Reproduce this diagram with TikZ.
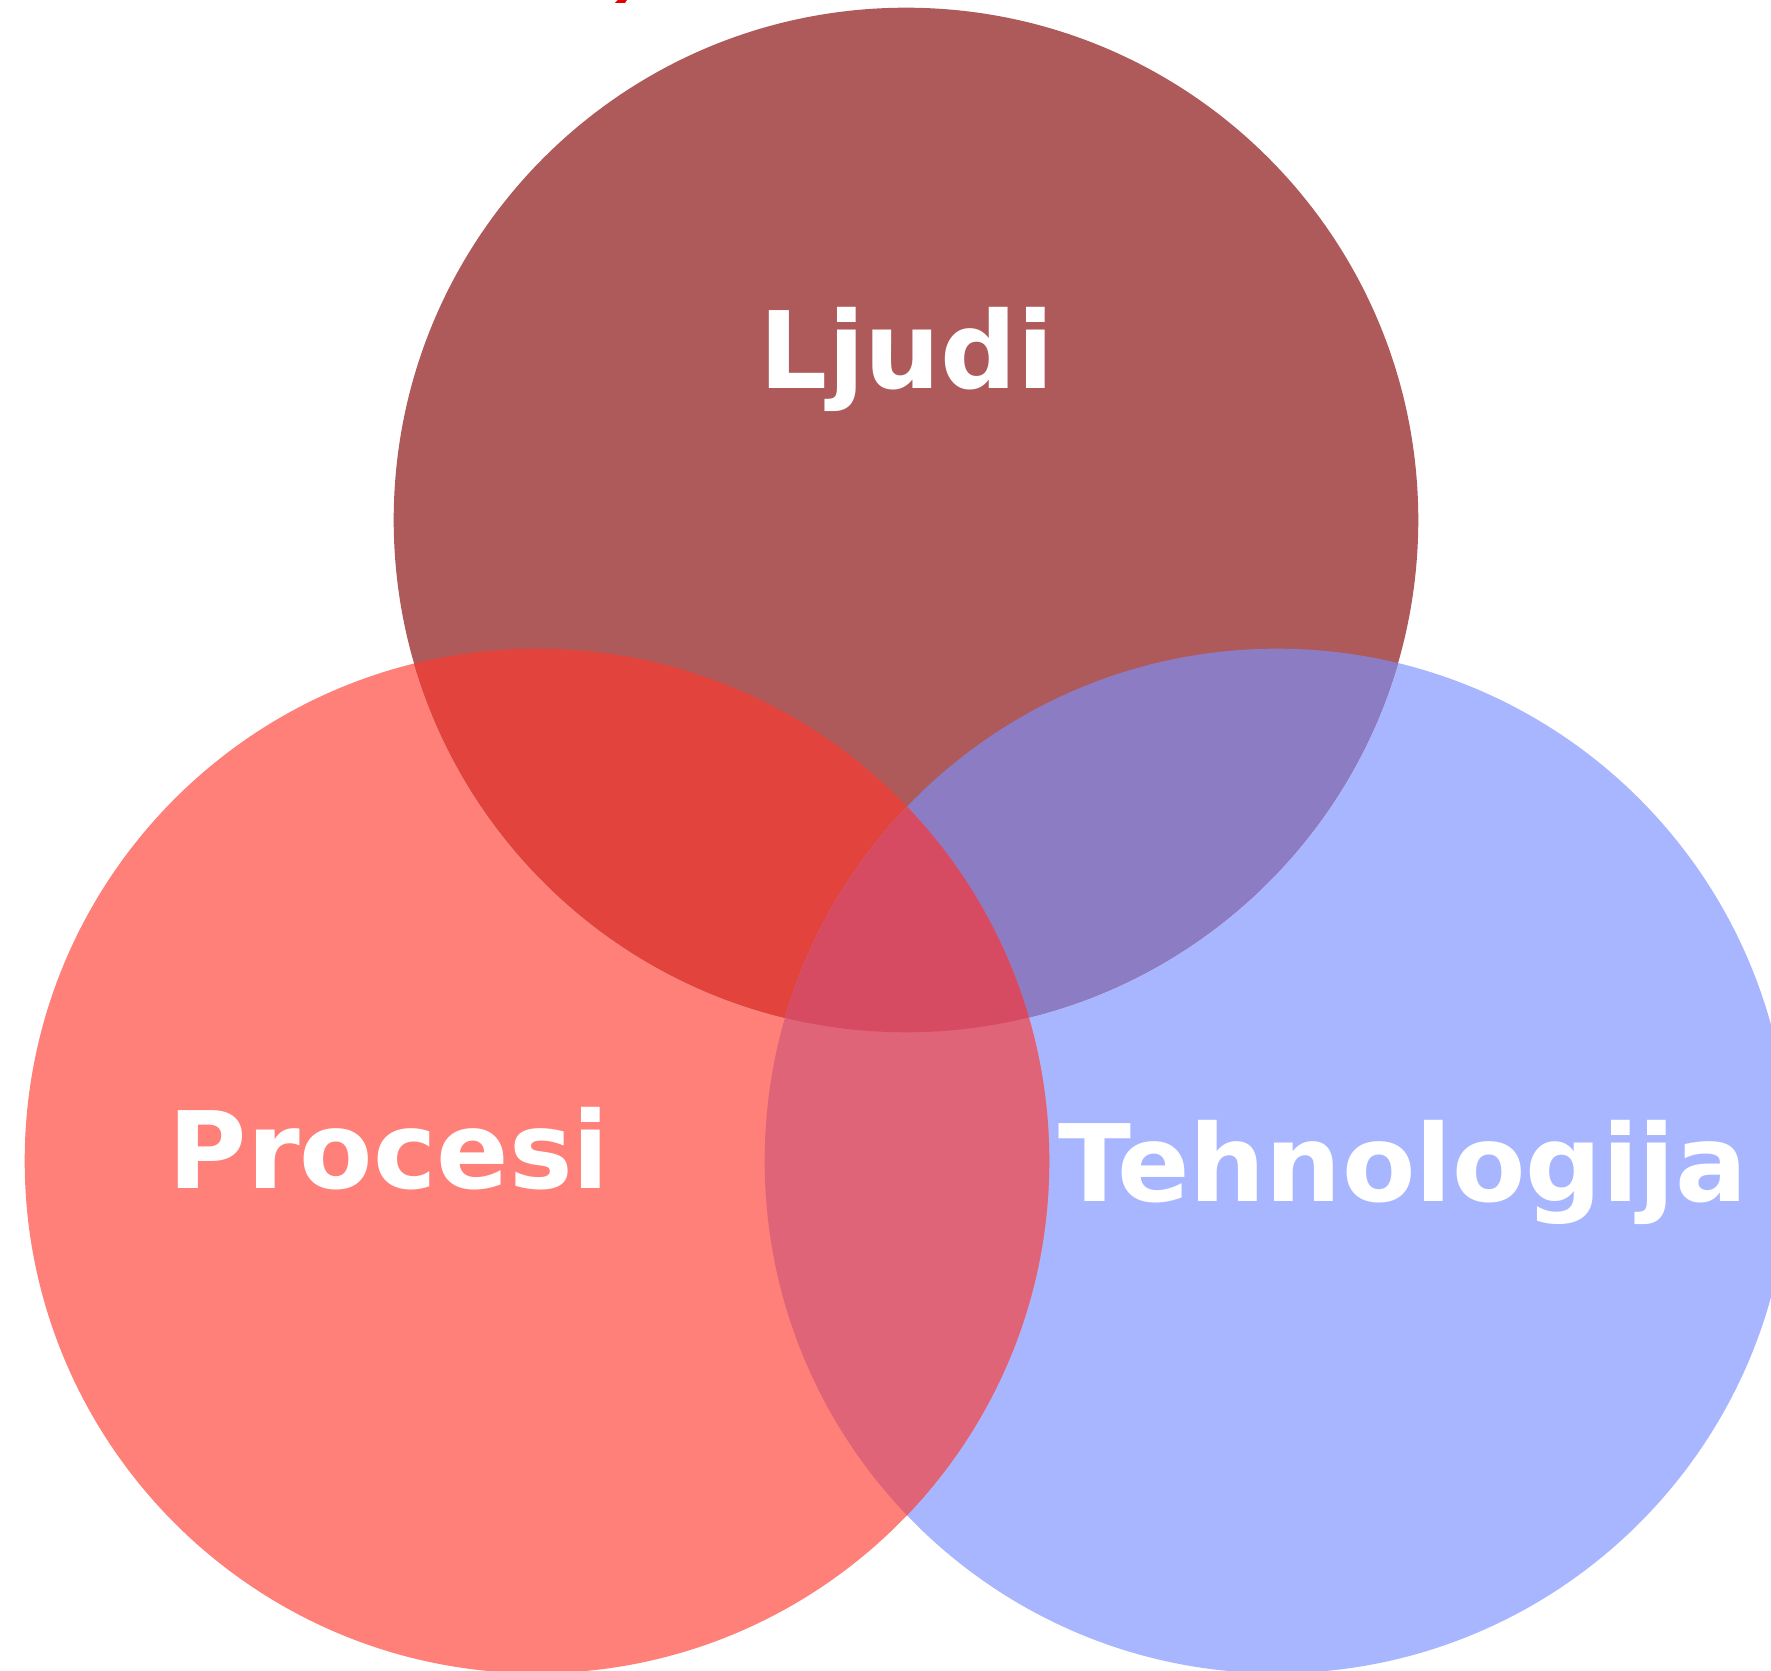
\documentclass[tikz,border=0pt]{standalone}
\usepackage{fontspec}
\newfontfamily\vennfont{DejaVu Sans}
\definecolor{ljudi}{HTML}{AE5A5A}
\definecolor{procesi}{HTML}{FF7F79}
\definecolor{tehno}{HTML}{A8B6FF}
\definecolor{lp}{HTML}{E2443D}
\definecolor{lt}{HTML}{8B7CC4}
\definecolor{pt}{HTML}{E06478}
\definecolor{lpt}{HTML}{D74B62}

\begin{document}
\begin{tikzpicture}[
  x=0.01cm,
  y=-0.01cm,
  inner sep=0pt,
  outer sep=0pt,
  label/.style={
    anchor=base,
    text=white,
    font=\vennfont\bfseries\fontsize{30.4}{36}\selectfont,
  },
]
  \useasboundingbox (0, 0) rectangle (1771, 1671);
  \coordinate (cL) at (906, 520);
  \coordinate (cP) at (537, 1161);
  \coordinate (cT) at (1277, 1161);
  \def\R{5.12cm}
  % the three sets
  \fill[tehno]   (cT) circle[radius=\R];
  \fill[procesi] (cP) circle[radius=\R];
  \fill[ljudi]   (cL) circle[radius=\R];
  % pairwise overlaps
  \begin{scope}
    \clip (cL) circle[radius=\R];
    \fill[lp] (cP) circle[radius=\R];
    \fill[lt] (cT) circle[radius=\R];
  \end{scope}
  \begin{scope}
    \clip (cP) circle[radius=\R];
    \fill[pt] (cT) circle[radius=\R];
    \clip (cT) circle[radius=\R];
    \fill[lpt] (cL) circle[radius=\R];
  \end{scope}
  % labels
  \node[label] (ljudi)   at (907, 389)  {Ljudi};
  \node[label] (procesi) at (389, 1189) {Procesi};
  \node[label] (tehno)   at (1403, 1202) {Tehnologija};
  % stray mark at the top edge
  \fill[red!90!black] (615, 3) -- (618, 0) -- (627, 0) -- (625, 3) -- cycle;
\end{tikzpicture}
\end{document}
